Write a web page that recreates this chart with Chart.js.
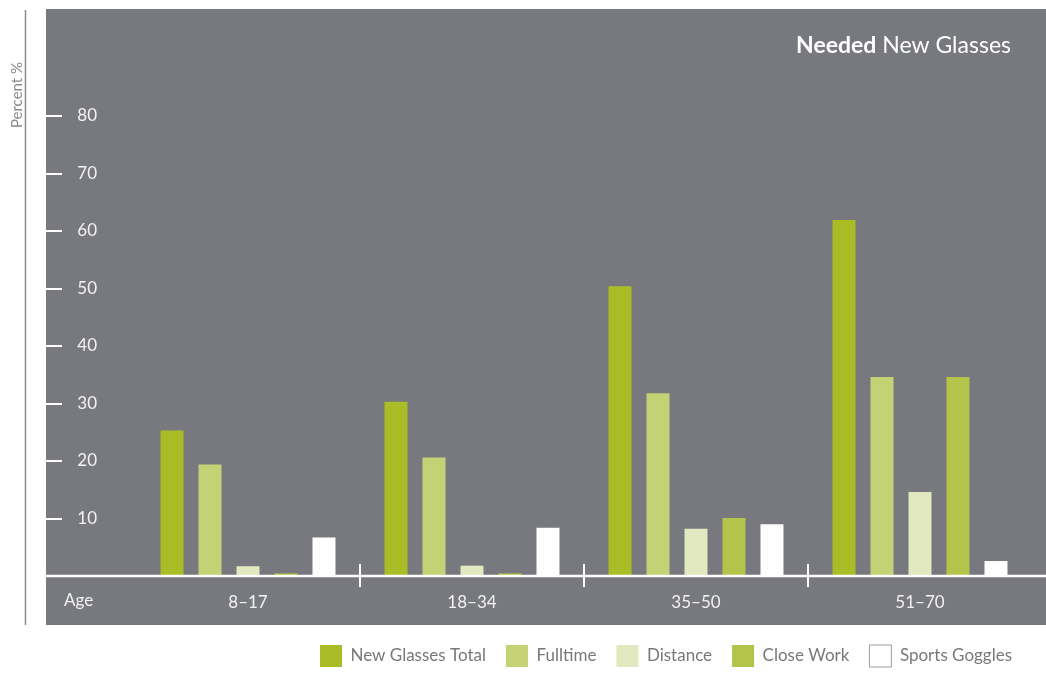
<!DOCTYPE html>
<html>
<head>
<meta charset="utf-8">
<title>Needed New Glasses</title>
<script src="https://cdn.jsdelivr.net/npm/chart.js@4.4.1/dist/chart.umd.min.js"></script>
<style>
    html, body { margin: 0; padding: 0; background: #ffffff; }
    canvas { display: block; }
</style>
</head>
<body>
<canvas id="jsChart" width="1046" height="673"></canvas>
<script>

// 年齡層
const ageGroups = ['8–17', '18–34', '35–50', '51–70']

// 各類型眼鏡 (百分比)
const newGlassesTotal = [25.3, 30.3, 50.4, 61.9]
const fulltime = [19.4, 20.6, 31.8, 34.6]
const distance = [1.7, 1.8, 8.2, 14.6]
const closeWork = [0.45, 0.45, 10.1, 34.6]
const sportsGoggles = [6.7, 8.4, 9.0, 2.6]

const seriesNames = ['New Glasses Total', 'Fulltime', 'Distance', 'Close Work', 'Sports Goggles']
const seriesColors = ['#aabd26', '#c5d175', '#e2e8c0', '#b4c349', '#ffffff']

// Y 軸刻度
const yTicks = [10, 20, 30, 40, 50, 60, 70, 80]

const panelColor = '#78797e'
const fontFamily = 'Lato, "Open Sans", sans-serif'

/**
 * @description 背景灰色面板、左側直線與標題
*/
const panelPlugin = {
    id: 'panel',
    beforeDraw(chart) {
        let ctx = chart.ctx
        let y = chart.scales.y
        let x = chart.scales.x
        let top = 9

        ctx.save()
        ctx.fillStyle = panelColor
        ctx.fillRect(y.left, top, chart.width - y.left, x.bottom - top)

        // 左側直線
        ctx.strokeStyle = '#8a8b8f'
        ctx.lineWidth = 1.5
        ctx.beginPath()
        ctx.moveTo(25.5, top + 1)
        ctx.lineTo(25.5, x.bottom)
        ctx.stroke()

        // Percent %
        ctx.translate(17, 95)
        ctx.rotate(-Math.PI / 2)
        ctx.fillStyle = '#8a8b8f'
        ctx.font = `15px ${fontFamily}`
        ctx.textAlign = 'center'
        ctx.textBaseline = 'middle'
        ctx.fillText('Percent %', 0, 0)
        ctx.restore()

        // 標題
        ctx.save()
        ctx.fillStyle = '#ffffff'
        ctx.textBaseline = 'middle'
        ctx.textAlign = 'left'
        let titleY = 46
        let bold = 'Needed'
        let rest = ' New Glasses'
        ctx.font = `bold 23px ${fontFamily}`
        let boldWidth = ctx.measureText(bold).width
        ctx.font = `23px ${fontFamily}`
        let restWidth = ctx.measureText(rest).width
        let startX = x.right - 21 - boldWidth - restWidth
        ctx.font = `bold 23px ${fontFamily}`
        ctx.fillText(bold, startX, titleY)
        ctx.font = `23px ${fontFamily}`
        ctx.fillText(rest, startX + boldWidth, titleY)
        ctx.restore()
    },
    afterDatasetsDraw(chart) {
        let ctx = chart.ctx
        let y = chart.scales.y
        let x = chart.scales.x
        let base = y.getPixelForValue(0)

        ctx.save()
        ctx.strokeStyle = '#ffffff'
        ctx.lineWidth = 2.5

        // 基準線
        ctx.beginPath()
        ctx.moveTo(y.left, base)
        ctx.lineTo(chart.width, base)
        ctx.stroke()

        // Y 軸短刻度
        ctx.lineWidth = 2
        y.ticks.forEach(tick => {
            if (tick.value === 0) { return }
            let py = Math.round(y.getPixelForValue(tick.value))
            ctx.beginPath()
            ctx.moveTo(y.left, py)
            ctx.lineTo(y.left + 16, py)
            ctx.stroke()
        })

        // 類別分隔線
        for (let i = 1; i < ageGroups.length; i++) {
            let px = Math.round((x.getPixelForTick(i - 1) + x.getPixelForTick(i)) / 2)
            ctx.beginPath()
            ctx.moveTo(px, base - 12)
            ctx.lineTo(px, base + 11)
            ctx.stroke()
        }

        // Age
        ctx.fillStyle = '#f2f2f2'
        ctx.font = `17px ${fontFamily}`
        ctx.textAlign = 'left'
        ctx.textBaseline = 'middle'
        ctx.fillText('Age', 64, (base + x.bottom) / 2)
        ctx.restore()
    }
}

/**
 * @function initChart
 * @description 初始化圖表
*/
function initChart() {

    let element = document.getElementById('jsChart')
    let data = [newGlassesTotal, fulltime, distance, closeWork, sportsGoggles]

    let datasets = seriesNames.map((name, index) => {
        return {
            label: name,
            data: data[index],
            backgroundColor: seriesColors[index],
            borderWidth: 0,
            barPercentage: 0.605,
            categoryPercentage: 0.848
        }
    })

    new Chart(element, {
        type: 'bar',
        data: {
            labels: ageGroups,
            datasets: datasets
        },
        plugins: [panelPlugin],
        options: {
            responsive: false,
            animation: false,
            devicePixelRatio: 1,
            layout: {
                padding: { left: 46, right: 14, top: 116, bottom: 0 }
            },
            plugins: {
                tooltip: { enabled: false },
                legend: {
                    position: 'bottom',
                    align: 'end',
                    maxHeight: 48,
                    labels: {
                        boxWidth: 22,
                        boxHeight: 22,
                        padding: 20,
                        color: '#77787c',
                        font: { family: fontFamily, size: 17 },
                        generateLabels: (chart) => {
                            return chart.data.datasets.map((ds, i) => ({
                                text: ds.label,
                                fillStyle: ds.backgroundColor,
                                strokeStyle: i === 4 ? '#9a9b9e' : ds.backgroundColor,
                                lineWidth: i === 4 ? 1 : 0,
                                fontColor: '#77787c',
                                hidden: false,
                                datasetIndex: i
                            }))
                        }
                    }
                }
            },
            scales: {
                x: {
                    grid: { display: false },
                    border: { display: false },
                    ticks: {
                        color: '#f2f2f2',
                        padding: 8,
                        font: { family: fontFamily, size: 17 }
                    },
                    afterFit: (scale) => { scale.height = 49 }
                },
                y: {
                    min: 0,
                    max: 80,
                    grid: { display: false, drawTicks: false },
                    border: { display: false },
                    afterBuildTicks: (scale) => {
                        scale.ticks = [0].concat(yTicks).map(v => ({ value: v }))
                    },
                    ticks: {
                        color: '#f2f2f2',
                        padding: 39,
                        crossAlign: 'near',
                        font: { family: fontFamily, size: 17 },
                        callback: (value) => value === 0 ? '' : value
                    },
                    afterFit: (scale) => { scale.width = 90 }
                }
            }
        }
    })

    return true
}

initChart()

</script>
</body>
</html>
